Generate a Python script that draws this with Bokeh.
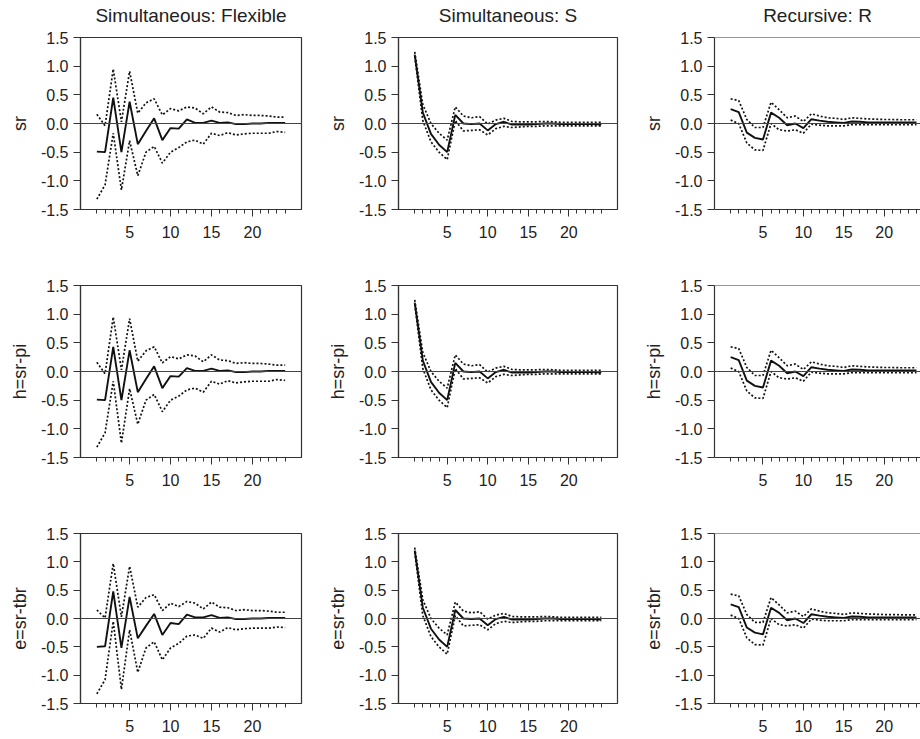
from bokeh.plotting import figure
from bokeh.layouts import gridplot
from bokeh.models import Span, FixedTicker, PrintfTickFormatter, Range1d, Title
from bokeh.embed import file_html
from bokeh.resources import INLINE

steps = list(range(1, 25))
col_titles = ["Simultaneous: Flexible", "Simultaneous: S", "Recursive: R"]
row_labels = ["sr", "h=sr-pi", "e=sr-tbr"]
y_ticks = [-1.5, -1.0, -0.5, 0.0, 0.5, 1.0, 1.5]
x_major_ticks = [5, 10, 15, 20]

# Simultaneous: Flexible
flex_sr_mid = [-0.49, -0.5, 0.45, -0.5, 0.38, -0.36, -0.13, 0.09, -0.29, -0.08, -0.09, 0.07,
               0.01, 0.01, 0.05, 0.01, 0.02, -0.01, -0.01, 0.0, 0.0, 0.01, 0.01, 0.01]
flex_sr_hi = [0.16, -0.04, 0.95, 0.03, 0.91, 0.18, 0.36, 0.43, 0.15, 0.26, 0.22, 0.29,
              0.27, 0.17, 0.29, 0.2, 0.19, 0.14, 0.155, 0.14, 0.14, 0.13, 0.11, 0.11]
flex_sr_lo = [-1.32, -1.07, -0.17, -1.16, -0.3, -0.91, -0.5, -0.4, -0.69, -0.5, -0.42, -0.32,
              -0.29, -0.36, -0.17, -0.21, -0.16, -0.2, -0.18, -0.17, -0.17, -0.17, -0.14, -0.155]

flex_h_mid = [-0.49, -0.5, 0.43, -0.5, 0.37, -0.36, -0.13, 0.09, -0.29, -0.08, -0.09, 0.06,
              0.01, 0.01, 0.05, 0.01, 0.02, -0.01, -0.01, 0.0, 0.0, 0.01, 0.01, 0.01]
flex_h_hi = [0.16, -0.04, 0.95, 0.03, 0.92, 0.18, 0.36, 0.43, 0.15, 0.26, 0.22, 0.29,
             0.27, 0.17, 0.29, 0.2, 0.19, 0.14, 0.155, 0.14, 0.14, 0.13, 0.11, 0.11]
flex_h_lo = [-1.32, -1.07, -0.17, -1.25, -0.3, -0.92, -0.5, -0.4, -0.7, -0.5, -0.43, -0.32,
             -0.29, -0.36, -0.17, -0.22, -0.16, -0.2, -0.18, -0.17, -0.17, -0.17, -0.14, -0.155]

flex_e_mid = [-0.5, -0.49, 0.48, -0.52, 0.38, -0.35, -0.13, 0.08, -0.29, -0.08, -0.1, 0.07,
              0.02, 0.02, 0.06, 0.01, 0.02, -0.01, -0.01, 0.0, 0.0, 0.01, 0.01, 0.01]
flex_e_hi = [0.15, 0.01, 0.97, 0.03, 0.92, 0.2, 0.37, 0.42, 0.14, 0.27, 0.21, 0.3,
             0.27, 0.17, 0.29, 0.2, 0.19, 0.14, 0.155, 0.14, 0.14, 0.13, 0.11, 0.11]
flex_e_lo = [-1.33, -1.08, -0.05, -1.25, -0.2, -0.95, -0.52, -0.41, -0.73, -0.52, -0.44, -0.31,
             -0.29, -0.35, -0.17, -0.24, -0.16, -0.2, -0.18, -0.17, -0.17, -0.17, -0.15, -0.16]

# Simultaneous: S
simS_mid = [1.2, 0.19, -0.18, -0.37, -0.5, 0.15, 0.0, -0.01, 0.0, -0.12, -0.01, 0.03,
            -0.02, -0.02, -0.02, -0.01, 0.0, 0.0, -0.01, -0.01, -0.01, -0.01, -0.01, -0.02]
simS_hi = [1.25, 0.33, 0.0, -0.17, -0.29, 0.29, 0.13, 0.1, 0.12, -0.01, 0.06, 0.09,
           0.035, 0.03, 0.03, 0.03, 0.035, 0.03, 0.02, 0.02, 0.02, 0.02, 0.02, 0.02]
simS_lo = [1.17, 0.05, -0.32, -0.5, -0.63, 0.05, -0.13, -0.12, -0.11, -0.2, -0.09, -0.05,
           -0.07, -0.06, -0.05, -0.05, -0.04, -0.04, -0.04, -0.04, -0.04, -0.04, -0.04, -0.04]

# Recursive: R
recR_mid = [0.25, 0.2, -0.16, -0.25, -0.28, 0.19, 0.1, -0.03, 0.0, -0.08, 0.075, 0.05,
            0.03, 0.02, 0.01, 0.035, 0.03, 0.02, 0.02, 0.02, 0.02, 0.02, 0.02, 0.02]
recR_hi = [0.43, 0.4, 0.07, -0.07, -0.07, 0.37, 0.24, 0.1, 0.13, 0.035, 0.17, 0.13,
           0.1, 0.09, 0.07, 0.1, 0.09, 0.08, 0.075, 0.07, 0.07, 0.065, 0.065, 0.065]
recR_lo = [0.06, 0.0, -0.34, -0.46, -0.47, 0.0, -0.11, -0.13, -0.11, -0.17, -0.01, -0.03,
           -0.04, -0.04, -0.04, -0.02, -0.02, -0.02, -0.02, -0.02, -0.02, -0.02, -0.02, -0.02]

panels = [
    [(flex_sr_mid, flex_sr_lo, flex_sr_hi), (simS_mid, simS_lo, simS_hi), (recR_mid, recR_lo, recR_hi)],
    [(flex_h_mid, flex_h_lo, flex_h_hi), (simS_mid, simS_lo, simS_hi), (recR_mid, recR_lo, recR_hi)],
    [(flex_e_mid, flex_e_lo, flex_e_hi), (simS_mid, simS_lo, simS_hi), (recR_mid, recR_lo, recR_hi)],
]

FONT = "Liberation Sans"
TXT = "#222222"
AX = "#333333"

col_widths = [324, 316, 280]
col_border_left = [80, 72, 72]
col_border_right = [23, 23, 0]
col_x_end = [26.0, 26.0, 24.5]
row_heights = [248, 248, 242]
row_border_bottom = [39, 39, 35]

grid = []
for r in range(3):
    row = []
    for c in range(3):
        mid, lo, hi = panels[r][c]
        p = figure(width=col_widths[c], height=row_heights[r], output_backend="svg",
                   toolbar_location=None, tools="",
                   x_range=Range1d(-1.0, col_x_end[c]), y_range=Range1d(-1.5, 1.5),
                   min_border_left=col_border_left[c], min_border_right=col_border_right[c],
                   min_border_top=37, min_border_bottom=row_border_bottom[r])
        if r == 0:
            # thin empty spacer between the frame and the column title
            p.add_layout(Title(text=" ", text_font_size="1px", standoff=8), "above")
            p.title.text = col_titles[c]
            p.title.align = "center"
            p.title.text_font = FONT
            p.title.text_font_size = "19px"
            p.title.text_font_style = "normal"
            p.title.text_color = TXT
            p.title.text_line_height = 1.0
            p.title.standoff = 2
        p.xgrid.visible = False
        p.ygrid.visible = False
        p.background_fill_color = "white"
        p.border_fill_color = "white"
        if c == 2:
            p.outline_line_color = None
            p.add_layout(Span(location=1.5, dimension="width", line_color=AX, line_width=1.2))
        else:
            p.outline_line_color = AX
            p.outline_line_width = 1.2

        p.add_layout(Span(location=0, dimension="width", line_color="#444444", line_width=1.2))

        p.line(steps, hi, line_color="#111111", line_width=1.7, line_dash="2 2")
        p.line(steps, lo, line_color="#111111", line_width=1.7, line_dash="2 2")
        p.line(steps, mid, line_color="#111111", line_width=1.9)

        xa = p.xaxis[0]
        xa.ticker = FixedTicker(ticks=x_major_ticks, minor_ticks=steps)
        xa.major_tick_out = 7
        xa.major_tick_in = 0
        xa.minor_tick_out = 4
        xa.minor_tick_in = 0
        xa.major_label_standoff = 9
        xa.major_label_text_font = FONT
        xa.major_label_text_font_size = "16px"
        xa.major_label_text_color = TXT
        xa.axis_line_color = AX
        xa.major_tick_line_color = AX
        xa.minor_tick_line_color = AX
        xa.axis_line_width = 1.2

        ya = p.yaxis[0]
        ya.ticker = FixedTicker(ticks=y_ticks, minor_ticks=[])
        ya.formatter = PrintfTickFormatter(format="%.1f")
        ya.major_tick_out = 7
        ya.major_tick_in = 0
        ya.minor_tick_out = 0
        ya.minor_tick_in = 0
        ya.major_label_standoff = 5
        ya.major_label_text_font = FONT
        ya.major_label_text_font_size = "16px"
        ya.major_label_text_color = TXT
        ya.axis_line_color = AX
        ya.major_tick_line_color = AX
        ya.axis_line_width = 1.2
        ya.axis_label = row_labels[r]
        ya.axis_label_text_font = FONT
        ya.axis_label_text_font_size = "18px"
        ya.axis_label_text_font_style = "normal"
        ya.axis_label_text_color = TXT
        ya.axis_label_standoff = 8
        row.append(p)
    grid.append(row)

layout = gridplot(grid, toolbar_location=None)

open("out.html", "w").write(file_html(layout, INLINE))
